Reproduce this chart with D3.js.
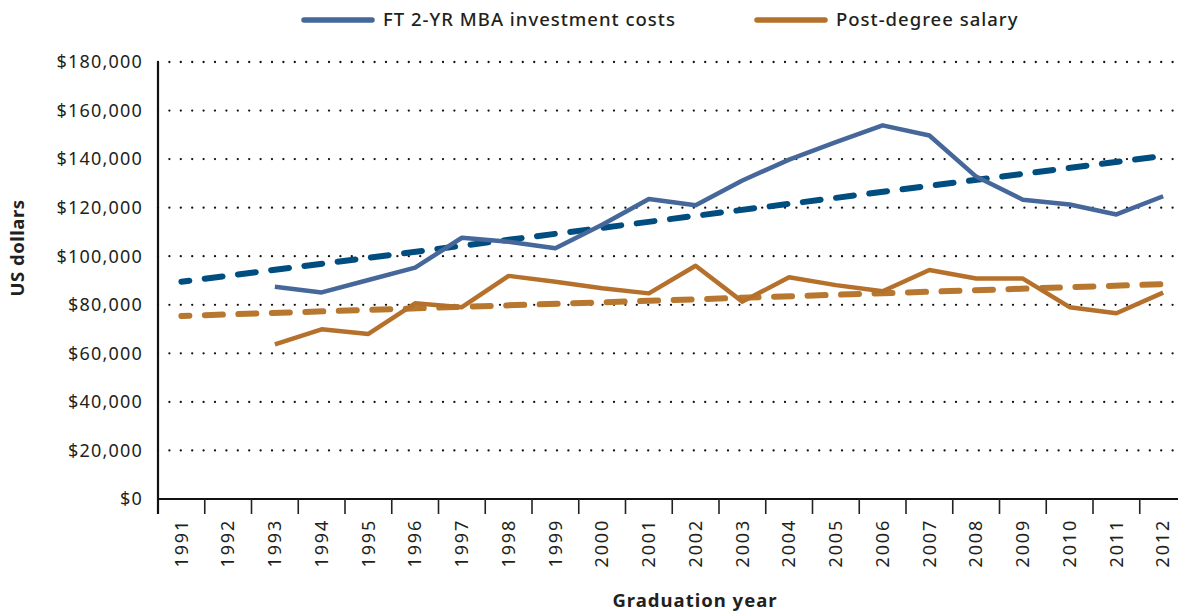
<!DOCTYPE html>
<html>
<head>
<meta charset="utf-8">
<script src="https://cdn.jsdelivr.net/npm/d3@7"></script>
<style>
    body { margin: 0; background: #fff; }
    svg { display: block; font-family: "Noto Sans", sans-serif; }
</style>
</head>
<body>
<svg id="chart" width="1178" height="613"></svg>
<script>
// Chart data
const years = d3.range(1991, 2013).map(String);
const investmentCosts = [null, null, 87400, 85100, 90200, 95300, 107600, 106000, 103300, 113000,
    123600, 121000, 131200, 139800, 147000, 153900, 149700, 132800, 123300, 121300, 117200, 124700];
const salary = [null, null, 63700, 69900, 68000, 80600, 79000, 91900, 89500, 86800,
    84700, 96100, 81300, 91300, 88100, 85600, 94300, 90800, 90800, 79000, 76500, 85000];
// linear trend lines, given by their values at the first and last year
const trendYears = ['1991', '2012'];
const investmentTrend = [89500, 141300];
const salaryTrend = [75400, 88500];
const yTicks = [0, 20000, 40000, 60000, 80000, 100000, 120000, 140000, 160000, 180000];

const colors = {
    invest: '#46679a',
    investTrend: '#004d80',
    salary: '#b5712b',
    salaryTrend: '#b8772f',
    text: '#231f20'
};

const svg = d3.select('#chart');
const plotLeft = 158, plotRight = 1186.5, plotTop = 62, plotBottom = 499;

const x = d3.scaleBand().domain(years).range([plotLeft, plotRight]).padding(0);
const y = d3.scaleLinear().domain([0, 180000]).range([plotBottom, plotTop]);
const cx = d => x(d) + x.bandwidth() / 2;

// dotted gridlines
svg.append('g')
    .selectAll('line')
    .data(yTicks.filter(d => d > 0))
    .enter()
    .append('line')
    .attr('x1', plotLeft)
    .attr('x2', 1178)
    .attr('y1', d => y(d))
    .attr('y2', d => y(d))
    .attr('stroke', '#111')
    .attr('stroke-width', 2.3)
    .attr('stroke-linecap', 'round')
    .attr('stroke-dasharray', '0,11.4');

// y tick labels
svg.append('g')
    .selectAll('text')
    .data(yTicks)
    .enter()
    .append('text')
    .attr('x', 143)
    .attr('y', d => y(d))
    .attr('dy', '0.35em')
    .attr('text-anchor', 'end')
    .attr('font-size', 18)
    .attr('letter-spacing', 1.2)
    .attr('fill', colors.text)
    .text(d => '$' + d3.format(',')(d));

// axes lines
svg.append('line')
    .attr('x1', plotLeft).attr('x2', plotLeft)
    .attr('y1', plotTop).attr('y2', 514)
    .attr('stroke', '#111').attr('stroke-width', 2.2);
svg.append('line')
    .attr('x1', plotLeft).attr('x2', 1178)
    .attr('y1', plotBottom).attr('y2', plotBottom)
    .attr('stroke', '#111').attr('stroke-width', 2.2);

// x ticks at band boundaries
svg.append('g')
    .selectAll('line')
    .data(years.slice(1))
    .enter()
    .append('line')
    .attr('x1', d => x(d))
    .attr('x2', d => x(d))
    .attr('y1', plotBottom)
    .attr('y2', 514)
    .attr('stroke', '#222')
    .attr('stroke-width', 1.6);

// x tick labels
svg.append('g')
    .selectAll('text')
    .data(years)
    .enter()
    .append('text')
    .attr('transform', d => `translate(${cx(d)},519) rotate(-90)`)
    .attr('dy', '0.35em')
    .attr('text-anchor', 'end')
    .attr('font-size', 18)
    .attr('letter-spacing', 1.8)
    .attr('fill', colors.text)
    .text(d => d);

// trend lines
const trendLine = d3.line().x(d => cx(d[0])).y(d => y(d[1]));
[[investmentTrend, colors.investTrend], [salaryTrend, colors.salaryTrend]].forEach(([vals, col]) => {
    svg.append('path')
        .attr('d', trendLine(trendYears.map((yr, i) => [yr, vals[i]])))
        .attr('fill', 'none')
        .attr('stroke', col)
        .attr('stroke-width', 6)
        .attr('stroke-linecap', 'round')
        .attr('stroke-dasharray', '18,15.5')
        .attr('stroke-dashoffset', 10);
});

// data series
const line = d3.line()
    .defined(d => d[1] !== null)
    .x(d => cx(d[0]))
    .y(d => y(d[1]));
[[salary, colors.salary], [investmentCosts, colors.invest]].forEach(([vals, col]) => {
    svg.append('path')
        .attr('d', line(years.map((yr, i) => [yr, vals[i]])))
        .attr('fill', 'none')
        .attr('stroke', col)
        .attr('stroke-width', 4.5)
        .attr('stroke-linejoin', 'round');
});

// legend
const legend = [
    {label: 'FT 2-YR MBA investment costs', color: colors.invest, x: 304},
    {label: 'Post-degree salary', color: colors.salary, x: 757}
];
legend.forEach(l => {
    svg.append('line')
        .attr('x1', l.x).attr('x2', l.x + 68)
        .attr('y1', 20).attr('y2', 20)
        .attr('stroke', l.color)
        .attr('stroke-width', 5.5)
        .attr('stroke-linecap', 'round');
    svg.append('text')
        .attr('x', l.x + 79)
        .attr('y', 20)
        .attr('dy', '0.35em')
        .attr('font-size', 18.5)
        .attr('font-weight', 500)
        .attr('letter-spacing', 1)
        .attr('fill', colors.text)
        .text(l.label);
});

// axis titles
svg.append('text')
    .attr('transform', 'translate(18,248) rotate(-90)')
    .attr('dy', '0.35em')
    .attr('text-anchor', 'middle')
    .attr('font-size', 18.5)
    .attr('font-weight', 'bold')
    .attr('letter-spacing', 0.5)
    .attr('fill', colors.text)
    .text('US dollars');
svg.append('text')
    .attr('x', 695)
    .attr('y', 607)
    .attr('text-anchor', 'middle')
    .attr('font-size', 18.5)
    .attr('font-weight', 'bold')
    .attr('letter-spacing', 1)
    .attr('fill', colors.text)
    .text('Graduation year');
</script>
</body>
</html>
